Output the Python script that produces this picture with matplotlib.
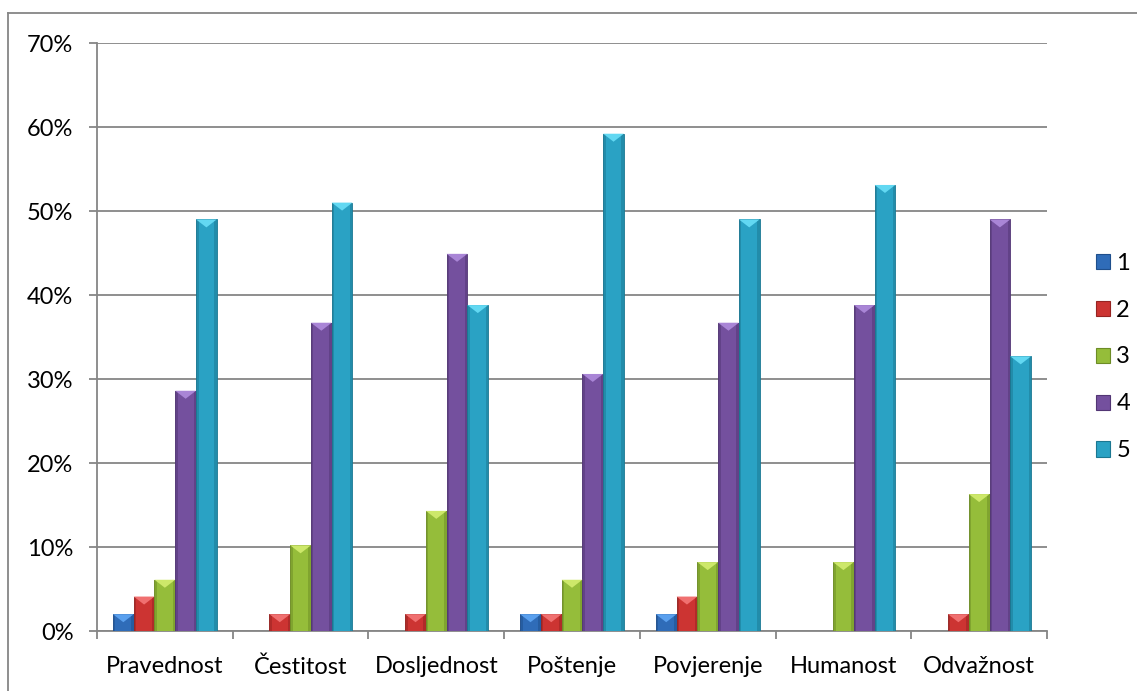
import matplotlib

matplotlib.use("Agg")
import matplotlib.pyplot as plt
import numpy as np
from matplotlib.lines import Line2D
from matplotlib.patches import Polygon, Rectangle

categories = ["Pravednost", "Čestitost", "Dosljednost", "Poštenje",
              "Povjerenje", "Humanost", "Odvažnost"]
series_names = ["1", "2", "3", "4", "5"]

s1 = [2.0, 0.0, 0.0, 2.0, 2.0, 0.0, 0.0]
s2 = [4.1, 2.0, 2.0, 2.0, 4.1, 0.0, 2.0]
s3 = [6.1, 10.2, 14.3, 6.1, 8.2, 8.2, 16.3]
s4 = [28.6, 36.7, 44.9, 30.6, 36.7, 38.8, 49.0]
s5 = [49.0, 51.0, 38.8, 59.2, 49.0, 53.1, 32.7]

# base, dark edge, light top facet
colors = ["#2f6cb8", "#cc3432", "#95bd3a", "#74509e", "#2aa2c4"]
edges = ["#1f4f8c", "#962422", "#6d8c26", "#523674", "#1b7791"]
lights = ["#5aa0ee", "#f07070", "#cde86a", "#a985d6", "#62d8f2"]

plt.rcParams["font.family"] = ["Lato", "DejaVu Sans"]

W, H = 1137, 691
fig = plt.figure(figsize=(W / 100, H / 100), dpi=100)
ax_l, ax_r, ax_t, ax_b = 97, 1047, 43, 631
ax = fig.add_axes([ax_l / W, 1 - ax_b / H, (ax_r - ax_l) / W, (ax_b - ax_t) / H])

ymax = 70
ax.set_xlim(-0.5, len(categories) - 0.5)
ax.set_ylim(0, ymax)

bar_w = 0.153
y_per_px = ymax / (ax_b - ax_t)
x_per_px = len(categories) / (ax_r - ax_l)
x = np.arange(len(categories))
data = [s1, s2, s3, s4, s5]

for i, vals in enumerate(data):
    offset = (i - 2) * bar_w
    for xc, v in zip(x + offset, vals):
        if v <= 0:
            continue
        x0 = xc - bar_w / 2
        x1 = xc + bar_w / 2
        ax.add_patch(Rectangle((x0, 0), bar_w, v, facecolor=colors[i],
                               edgecolor=edges[i], linewidth=0.6, zorder=3))
        # side shading
        sw = 2.5 * x_per_px
        ax.add_patch(Rectangle((x0, 0), sw, v, facecolor=edges[i],
                               edgecolor="none", alpha=0.5, zorder=3))
        ax.add_patch(Rectangle((x1 - sw, 0), sw, v, facecolor=edges[i],
                               edgecolor="none", alpha=0.5, zorder=3))
        d = min(8 * y_per_px, v)
        ax.add_patch(Polygon([(x0, v), (x1, v), (xc, v - d)], closed=True,
                             facecolor=lights[i], edgecolor="none", zorder=4))

grid_c = "#868686"
ax.set_yticks(np.arange(0, 71, 10))
ax.set_yticklabels([f"{t}%" for t in range(0, 71, 10)])
ax.grid(axis="y", color=grid_c, linewidth=1.3, zorder=0)
ax.set_axisbelow(True)

ax.set_xticks(np.arange(-0.5, len(categories), 1))
ax.set_xticklabels([])
ax.set_xticks(x, minor=True)
ax.set_xticklabels(categories, minor=True)
ax.tick_params(axis="x", which="major", length=6, width=1.3, color=grid_c)
ax.tick_params(axis="x", which="minor", length=0, pad=18, labelsize=17)
ax.tick_params(axis="y", length=6, width=1.3, color=grid_c, pad=11, labelsize=17)

for side in ["top", "right"]:
    ax.spines[side].set_visible(False)
for side in ["left", "bottom"]:
    ax.spines[side].set_color(grid_c)
    ax.spines[side].set_linewidth(1.3)

handles = [Rectangle((0, 0), 1, 1, facecolor=colors[i], edgecolor=edges[i],
                     linewidth=0.8) for i in range(len(series_names))]
fig.legend(handles, series_names, loc="center left",
           bbox_to_anchor=(1084 / W, 1 - 357 / H), frameon=False,
           fontsize=17, handlelength=0.62, handleheight=0.62,
           handletextpad=0.25, labelspacing=1.1, borderpad=0)

# outer chart border
fig.add_artist(Line2D([8 / W, 1], [1 - 13 / H] * 2, color=grid_c, linewidth=1.3))
fig.add_artist(Line2D([8 / W] * 2, [0, 1 - 13 / H], color=grid_c, linewidth=1.3))

fig.savefig("out.png", dpi=100)
